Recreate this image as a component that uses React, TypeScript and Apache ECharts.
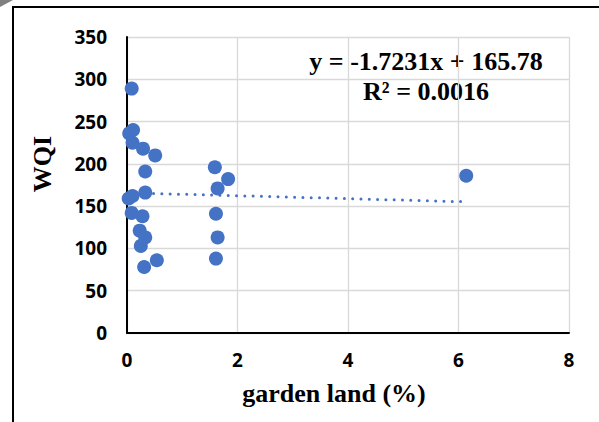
import React, { useEffect, useRef } from "react";
import * as echarts from "echarts";

const gardenLand: number[] = [0.085, 0.11, 0.04, 0.1, 0.29, 0.51, 0.33, 0.33, 0.03, 0.1, 0.085, 0.28, 0.23, 0.33, 0.25, 0.31, 0.54, 1.59, 1.83, 1.64, 1.61, 1.64, 1.61, 6.14];
const wqi: number[] = [289, 240, 236, 225, 218, 210, 191, 166, 159, 162, 142, 138, 121, 113, 103, 78, 86, 196, 182, 171, 141, 113, 88, 186];
const trendCoef: number[] = [-1.7231, 165.78];
const equationLines: string[] = ["y = -1.7231x + 165.78", "R² = 0.0016"];
const xTitle = "garden land (%)";
const yTitle = "WQI";

export default function App() {
  const ref = useRef<HTMLDivElement>(null);
  useEffect(() => {
    if (!ref.current) return;
    const chart = echarts.init(ref.current, null, { renderer: "svg" });
    const pts = gardenLand.map((x, i) => [x, wqi[i]]);
    const xmin = Math.min(...gardenLand);
    const xmax = Math.max(...gardenLand);
    const trend = [xmin, xmax].map((x) => [x, trendCoef[0] * x + trendCoef[1]]);
    const labelFont = { fontFamily: "Open Sans", fontWeight: "bold" as const, fontSize: 19, color: "#000" };
    chart.setOption({
      animation: false,
      grid: { left: 127, right: 30, top: 37, bottom: 89, containLabel: false },
      xAxis: {
        type: "value",
        min: 0,
        max: 8,
        interval: 2,
        axisLine: { show: true, onZero: false, lineStyle: { color: "#000", width: 2 } },
        axisTick: { show: false },
        axisLabel: { ...labelFont, margin: 17 },
        splitLine: { show: true, lineStyle: { color: "#d9d9d9", width: 1.3 } },
      },
      yAxis: {
        type: "value",
        min: 0,
        max: 350,
        interval: 50,
        axisLine: { show: true, onZero: false, lineStyle: { color: "#000", width: 2 } },
        axisTick: { show: false },
        axisLabel: { ...labelFont, margin: 20 },
        splitLine: { show: true, lineStyle: { color: "#d9d9d9", width: 1.3 } },
      },
      series: [
        {
          type: "line",
          data: trend,
          symbol: "none",
          lineStyle: { color: "#4472C4", width: 3, type: [0, 8.3], cap: "round" },
          z: 2,
        },
        {
          type: "scatter",
          data: pts,
          symbolSize: 14,
          itemStyle: { color: "#4472C4", opacity: 1 },
          z: 3,
        },
      ],
      graphic: [
        {
          type: "polygon",
          shape: { points: [[0, 0], [13, 0], [0, 7]] },
          style: { fill: "#808080" },
        },
        {
          type: "rect",
          shape: { x: 13, y: 7, width: 700, height: 500 },
          style: { fill: "none", stroke: "#000", lineWidth: 2 },
          z: -1,
        },
        {
          type: "text",
          x: 426,
          y: 61,
          style: {
            text: equationLines[0],
            font: "bold 26px 'Liberation Serif'",
            fill: "#000",
            align: "center",
            verticalAlign: "middle",
          },
        },
        {
          type: "text",
          x: 426,
          y: 91,
          style: {
            text: equationLines[1],
            font: "bold 26px 'Liberation Serif'",
            fill: "#000",
            align: "center",
            verticalAlign: "middle",
          },
        },
        {
          type: "text",
          x: 334,
          y: 393,
          style: {
            text: xTitle,
            font: "bold 26px 'Liberation Serif'",
            fill: "#000",
            align: "center",
            verticalAlign: "middle",
          },
        },
        {
          type: "text",
          x: 42,
          y: 164,
          rotation: Math.PI / 2,
          style: {
            text: yTitle,
            font: "bold 26px 'Liberation Serif'",
            fill: "#000",
            align: "center",
            verticalAlign: "middle",
          },
        },
      ],
    });
    return () => chart.dispose();
  }, []);
  return (
    <div
      ref={ref}
      style={{ position: "fixed", left: 0, top: 0, width: 599, height: 422, background: "#fff" }}
    />
  );
}
